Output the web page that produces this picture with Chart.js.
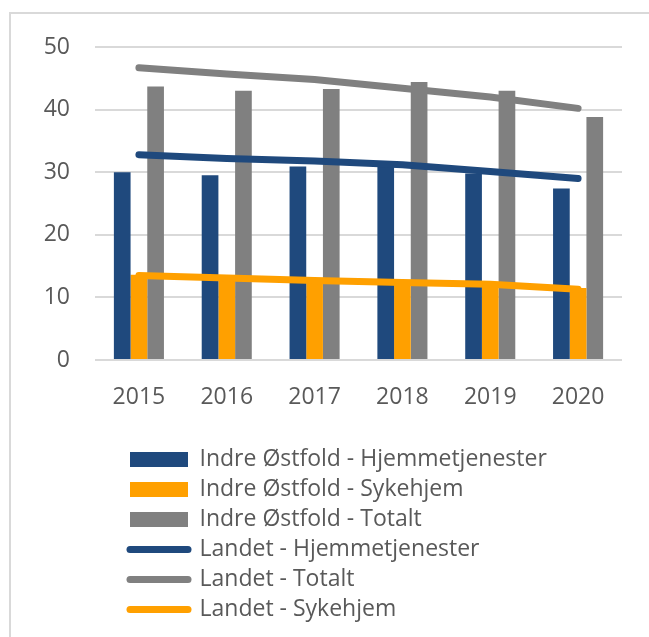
<!DOCTYPE html>
<html>
<head>
<meta charset="utf-8">
<script src="https://cdn.jsdelivr.net/npm/chart.js@4.4.1/dist/chart.umd.min.js"></script>
<style>
  html, body { margin: 0; padding: 0; background: #ffffff; }
  #wrap { position: relative; width: 649px; height: 637px; }
  #frame { position: absolute; left: 9px; top: 12px; right: 0; bottom: 0;
           border-top: 2px solid #d9d9d9; border-left: 2px solid #d9d9d9; pointer-events: none; }
  canvas { position: absolute; left: 0; top: 0; }
</style>
</head>
<body>
<div id="wrap">
  <canvas id="c" width="649" height="637"></canvas>
  <div id="frame"></div>
</div>
<script>
const years = ['2015', '2016', '2017', '2018', '2019', '2020'];
const yTicks = [0, 10, 20, 30, 40, 50];

const indreHjem = [30.0, 29.5, 30.9, 31.2, 29.8, 27.4];
const indreSyke = [13.6, 13.1, 12.8, 12.6, 12.1, 11.5];
const indreTotal = [43.7, 43.0, 43.3, 44.4, 43.0, 38.8];
const landetHjem = [32.8, 32.2, 31.8, 31.2, 30.1, 29.0];
const landetTotal = [46.7, 45.7, 44.8, 43.4, 42.0, 40.2];
const landetSyke = [13.5, 13.1, 12.7, 12.4, 12.1, 11.3];

const BLUE = '#1f497d';
const ORANGE = '#ffa000';
const GREY = '#808080';
const TEXT = '#595959';
const FONT = '"Open Sans", "DejaVu Sans", sans-serif';

function barDs(label, data, color) {
  return { type: 'bar', label, data, backgroundColor: color, borderWidth: 0, order: 1 };
}
function lineDs(label, data, color) {
  return { type: 'line', label, data, borderColor: color, backgroundColor: color,
           borderWidth: 7, borderCapStyle: 'round', borderJoinStyle: 'round',
           pointRadius: 0, pointHoverRadius: 0, tension: 0, fill: false, order: 0 };
}

const legendPlacer = {
  id: 'legendPlacer',
  afterLayout(chart) {
    const lg = chart.legend;
    if (!lg) return;
    const pad = lg.options.labels.padding;
    lg.left = 130 - pad;
    lg.top = 448 - pad;
    lg.right = 649;
    lg.bottom = 637;
    lg.width = lg.right - lg.left;
    lg.height = lg.bottom - lg.top;
  }
};

new Chart(document.getElementById('c'), {
  type: 'bar',
  data: {
    labels: years,
    datasets: [
      barDs('Indre Østfold - Hjemmetjenester', indreHjem, BLUE),
      barDs('Indre Østfold - Sykehjem', indreSyke, ORANGE),
      barDs('Indre Østfold - Totalt', indreTotal, GREY),
      lineDs('Landet - Hjemmetjenester', landetHjem, BLUE),
      lineDs('Landet - Totalt', landetTotal, GREY),
      lineDs('Landet - Sykehjem', landetSyke, ORANGE)
    ]
  },
  options: {
    responsive: false,
    animation: false,
    devicePixelRatio: 1,
    datasets: { bar: { categoryPercentage: 0.57, barPercentage: 1.0 } },
    layout: { padding: { left: 10, top: 47, right: 27, bottom: 217 } },
    scales: {
      x: {
        grid: { display: false },
        border: { display: false },
        ticks: { color: TEXT, font: { family: FONT, size: 23 }, padding: 16 },
        afterFit(scale) { scale.height = 60; }
      },
      y: {
        min: 0, max: 50,
        afterBuildTicks(scale) { scale.ticks = yTicks.map(v => ({ value: v })); },
        grid: { color: '#d9d9d9', lineWidth: 2, drawTicks: false },
        border: { display: false },
        ticks: { color: TEXT, font: { family: FONT, size: 23 }, padding: 25 },
        afterFit(scale) { scale.width = 85; }
      }
    },
    plugins: {
      tooltip: { enabled: false },
      legend: {
        position: 'chartArea',
        align: 'start',
        labels: {
          color: TEXT,
          font: { family: FONT, size: 23 },
          padding: 7,
          usePointStyle: true,
          pointStyleWidth: 58,
          boxHeight: 15,
          generateLabels(chart) {
            return chart.data.datasets.map((ds, i) => ({
              text: ds.label,
              fillStyle: ds.backgroundColor,
              strokeStyle: ds.type === 'line' ? ds.borderColor : ds.backgroundColor,
              lineWidth: ds.type === 'line' ? 7 : 0,
              lineCap: 'round',
              pointStyle: ds.type === 'line' ? 'line' : 'rect',
              fontColor: TEXT,
              hidden: false,
              datasetIndex: i
            }));
          }
        }
      }
    }
  },
  plugins: [legendPlacer]
});
</script>
</body>
</html>
